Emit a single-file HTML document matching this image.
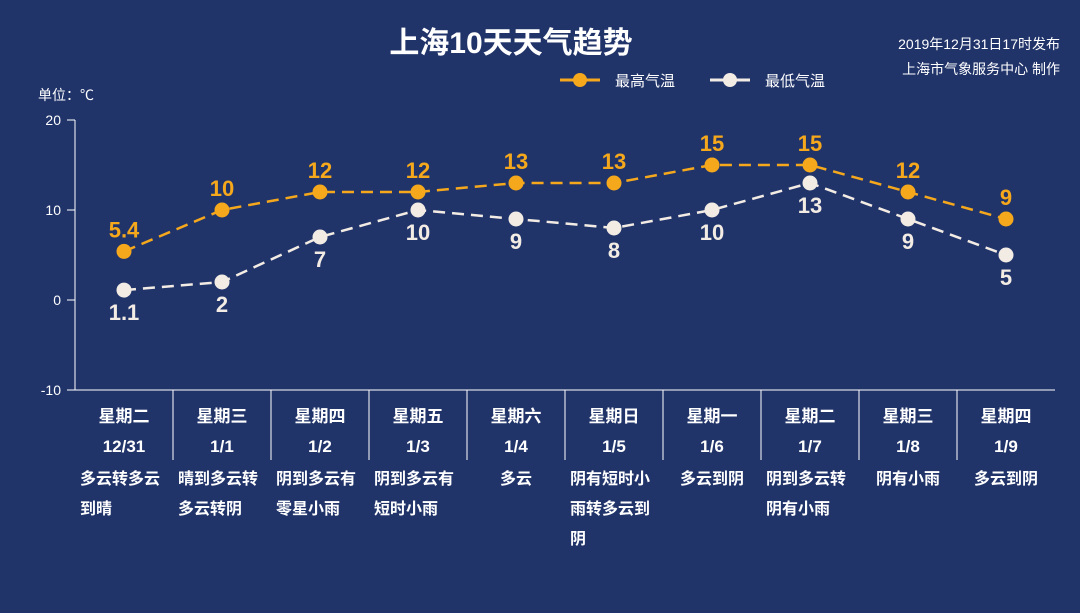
<!DOCTYPE html>
<html><head><meta charset="utf-8"><style>
body{margin:0;width:1080px;height:613px;background:#21346a;overflow:hidden;font-family:"Liberation Sans","Noto Sans CJK SC",sans-serif}
svg{display:block}
</style></head><body>
<svg id="chart" width="1080" height="613" xmlns="http://www.w3.org/2000/svg">
<rect width="1080" height="613" fill="#21346a"/>
<text x="511" y="53" text-anchor="middle" fill="#fff" font-size="30" font-weight="bold" font-family="Liberation Sans,Noto Sans CJK SC,sans-serif">上海10天天气趋势</text>
<text x="1060" y="49" text-anchor="end" fill="#fff" font-size="14" font-family="Liberation Sans,Noto Sans CJK SC,sans-serif">2019年12月31日17时发布</text>
<text x="1060" y="74" text-anchor="end" fill="#fff" font-size="14" font-family="Liberation Sans,Noto Sans CJK SC,sans-serif">上海市气象服务中心 制作</text>
<text x="38" y="100" fill="#fff" font-size="14" font-family="Liberation Sans,Noto Sans CJK SC,sans-serif">单位：℃</text>
<g>
<g><line x1="560" y1="80" x2="600" y2="80" stroke="#f5a81c" stroke-width="3"/><circle cx="580" cy="80" r="7" fill="#f5a81c"/><text x="615" y="86" fill="#fff" font-size="15" font-family="Liberation Sans,Noto Sans CJK SC,sans-serif">最高气温</text></g>
<g><line x1="710" y1="80" x2="750" y2="80" stroke="#f3ece4" stroke-width="3"/><circle cx="730" cy="80" r="7" fill="#f3ece4"/><text x="765" y="86" fill="#fff" font-size="15" font-family="Liberation Sans,Noto Sans CJK SC,sans-serif">最低气温</text></g>
</g>
<g id="axes"></g>
<g id="marks"></g>
</svg>
<script>
const weekdays=["星期二","星期三","星期四","星期五","星期六","星期日","星期一","星期二","星期三","星期四"];
const dates=["12/31","1/1","1/2","1/3","1/4","1/5","1/6","1/7","1/8","1/9"];
const weather=[["多云转多云","到晴"],["晴到多云转","多云转阴"],["阴到多云有","零星小雨"],["阴到多云有","短时小雨"],["多云"],["阴有短时小","雨转多云到","阴"],["多云到阴"],["阴到多云转","阴有小雨"],["阴有小雨"],["多云到阴"]];
const highTemps=[5.4,10,12,12,13,13,15,15,12,9];
const lowTemps=[1.1,2,7,10,9,8,10,13,9,5];
const yTicks=[20,10,0,-10];
const NS="http://www.w3.org/2000/svg";
const left=75,colW=98,yTop=120,yBot=390,yMax=20,yMin=-10;
const y=v=>yTop+(yMax-v)/(yMax-yMin)*(yBot-yTop);
const x=i=>left+colW*(i+0.5);
const FF="Liberation Sans,Noto Sans CJK SC,sans-serif";
function mk(tag,attrs,parent,text){const e=document.createElementNS(NS,tag);for(const k in attrs)e.setAttribute(k,attrs[k]);if(text!==undefined)e.textContent=text;parent.appendChild(e);return e;}
const ax=document.getElementById('axes'),mg=document.getElementById('marks');
let e=mk('line',{x1:left,y1:yTop,x2:left,y2:yBot,stroke:'#fff','stroke-width':1},ax);


e=mk('line',{x1:67,y1:yBot,x2:left+colW*10,y2:yBot,stroke:'#fff','stroke-width':1},ax);


yTicks.forEach(t=>{
 let l=mk('line',{x1:67,y1:y(t),x2:left,y2:y(t),stroke:'#fff'},ax);
 
 
 let tx=mk('text',{x:61,y:y(t)+5,'text-anchor':'end',fill:'#fff','font-size':14,'font-family':FF},ax,String(t));
 
 
});
weekdays.forEach((w,i)=>{
 const sx=left+colW*(i+1);
 if(i<9){let s=mk('line',{x1:sx,y1:yBot,x2:sx,y2:460,stroke:'#fff'},ax);
 
 }
 let t=mk('text',{x:x(i),y:422,'text-anchor':'middle',fill:'#fff','font-size':17,'font-weight':'bold','font-family':FF},ax,w);
 
 
 t=mk('text',{x:x(i),y:452,'text-anchor':'middle',fill:'#fff','font-size':17,'font-weight':'bold','font-family':FF},ax,dates[i]);
 
 
 const lines=weather[i];
 const anchor=lines.length===1?'middle':'start';
 const wx=lines.length===1?x(i):left+colW*i+5;
 lines.forEach((ln,j)=>{
  let wt=mk('text',{x:wx,y:484+j*30,'text-anchor':anchor,fill:'#fff','font-size':16,'font-weight':'bold','font-family':FF},ax,ln);
  
  
 });
});
function series(vals,color,name,above){
 const pts=vals.map((v,i)=>x(i)+','+y(v)).join(' ');
 let p=mk('polyline',{points:pts,fill:'none',stroke:color,'stroke-width':2.5,'stroke-dasharray':'12,7'},mg);
 
 
 vals.forEach((v,i)=>{
  let c=mk('circle',{cx:x(i),cy:y(v),r:7.5,fill:color},mg);
  
  
  let t=mk('text',{x:x(i),y:above?y(v)-14:y(v)+30,'text-anchor':'middle',fill:color,'font-size':22,'font-weight':'bold','font-family':FF},mg,String(v));
  
  
 });
}
series(lowTemps,'#f3ece4','low-temp',false);
series(highTemps,'#f5a81c','high-temp',true);
</script>
</body></html>
